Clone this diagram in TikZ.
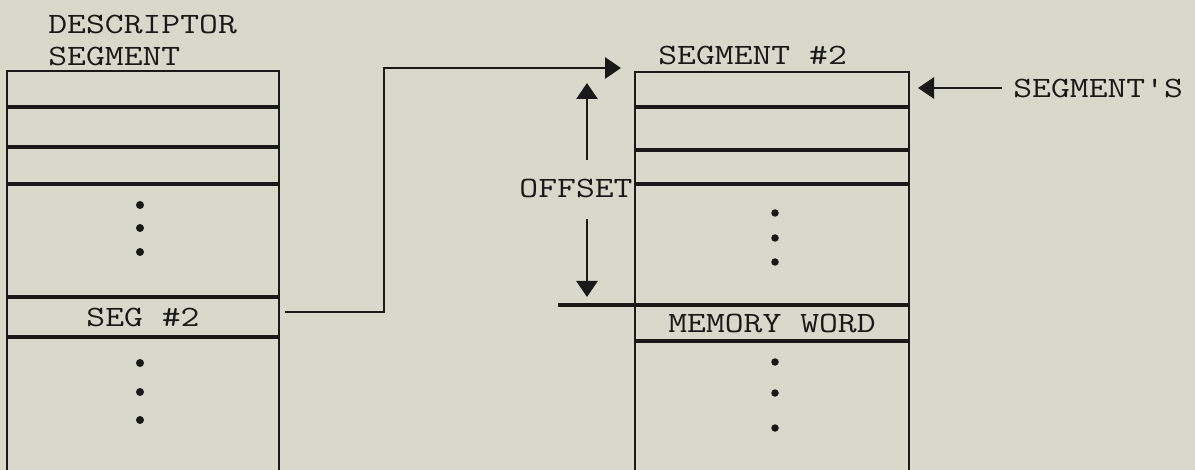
\documentclass[tikz,border=0pt]{standalone}
\usepackage{tikz}
\usetikzlibrary{arrows.meta, positioning, calc}
\definecolor{paper}{RGB}{217,217,203}
\definecolor{ink}{RGB}{25,25,25}
\newcommand{\typefont}{\ttfamily\fontsize{16.8}{18.2}\selectfont}
\newcommand{\typed}[1]{\scalebox{1.24}[1]{#1}}
\tikzset{
  memframe/.style={draw=ink, line width=1.3pt},
  memline/.style={draw=ink, line width=1.8pt},
  wordrow/.style={
    minimum width=54.4mm, minimum height=8mm, inner sep=0pt,
    outer sep=0pt, font=\typefont, text=ink
  },
  memlabel/.style={font=\typefont, text=ink, inner sep=0pt},
  ptrarrow/.style={
    -{Triangle[length=3.2mm, width=4.2mm]}, line width=1.6pt, draw=ink
  },
  memdot/.style={fill=ink},
}

\begin{document}
\begin{tikzpicture}[x=0.2mm, y=-0.2mm]
  \fill[paper] (0,0) rectangle (1195,470);
  \useasboundingbox (0,0) rectangle (1195,470);

  % Descriptor segment
  \node[memlabel, align=left, anchor=north west] (dsname) at (48,15)
    {\typed{DESCRIPTOR}\\\typed{SEGMENT}};
  \draw[memframe] (7,470) -- (7,71) -- (279,71) -- (279,470);
  \foreach \y in {107,147,184}
    \draw[memline] (7,\y) -- (279,\y);
  \node[wordrow] (seg2) at (143,317) {\typed{SEG \#2}};
  \draw[memline] (seg2.north west) -- (seg2.north east);
  \draw[memline] (seg2.south west) -- (seg2.south east);
  \foreach \y in {205,228,252,363,392,420}
    \fill[memdot] (140,\y) circle (0.8mm);

  % Segment #2
  \node[memlabel, anchor=base west] (segname) at (658,65)
    {\typed{SEGMENT \#2}};
  \draw[memframe] (635,470) -- (635,72) -- (909,72) -- (909,470);
  \foreach \y in {107,150,184}
    \draw[memline] (635,\y) -- (909,\y);
  \node[wordrow, minimum width=54.8mm, minimum height=7.2mm] (word)
    at (772,323) {\typed{MEMORY WORD}};
  \coordinate (offline) at (558,305);
  \draw[memline] (word.north west -| offline) -- (word.north east);
  \draw[memline] (word.south west) -- (word.south east);
  \foreach \y in {213,238,262,362,393,428}
    \fill[memdot] (775,\y) circle (0.75mm);

  % Pointer from descriptor to segment
  \coordinate (bend) at (384,200);
  \coordinate (segbase) at (621,68);
  \draw[ptrarrow] ([xshift=1.2mm,yshift=1mm]seg2.east) -| (bend) |- (segbase);

  % Offset
  \node[memlabel] (offset) at (576,188) {\typed{OFFSET}};
  \coordinate (offtop) at (587,83);
  \coordinate (offbot) at (587,297);
  \draw[ptrarrow] (offtop |- offset.north) ++(0,-18) -- (offtop);
  \draw[ptrarrow] (offbot |- offset.south) ++(0,21) -- (offbot);

  % Segment's base
  \node[memlabel, anchor=west] (segs) at (1013,88) {\typed{SEGMENT'S}};
  \coordinate (segtip) at (918,88);
  \draw[ptrarrow] ([xshift=-2.2mm]segs.west) -- (segtip);
\end{tikzpicture}
\end{document}
